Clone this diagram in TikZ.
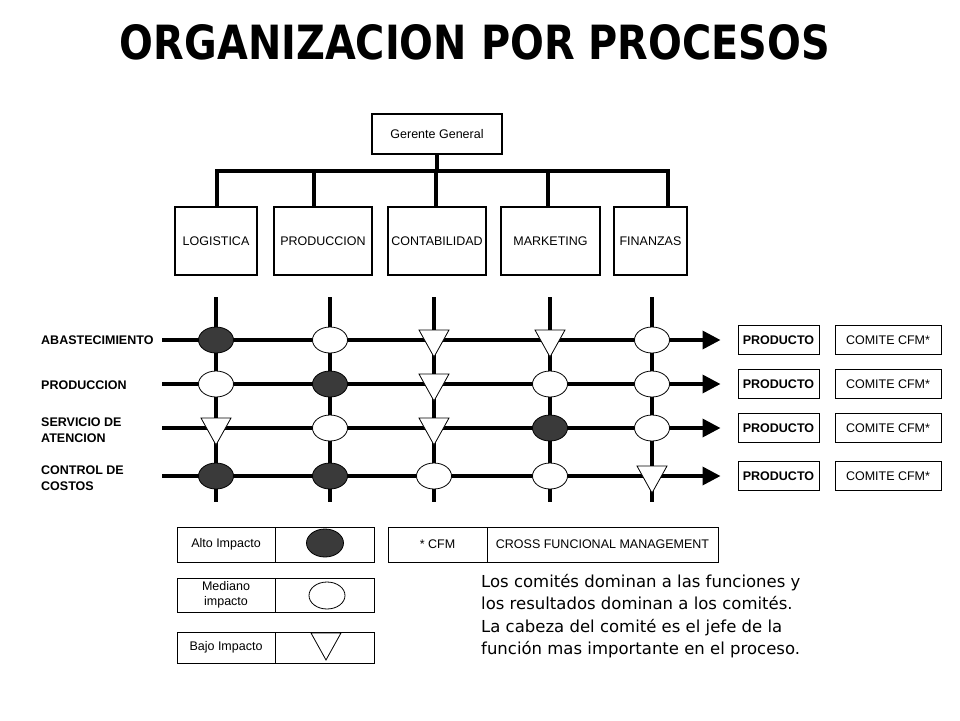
\documentclass[tikz,border=0pt]{standalone}
\usepackage{fontspec}
\setmainfont{Liberation Sans}
\newfontfamily\comicfont{DejaVu Sans}
\usetikzlibrary{shapes.geometric,arrows.meta}
\definecolor{darkfill}{RGB}{58,58,58}
\begin{document}
\begin{tikzpicture}[x=1pt,y=-1pt,
  orgbox/.style={draw, line width=1.8pt, inner sep=0pt, font=\fontsize{12.5}{14}\selectfont},
  thinbox/.style={draw, line width=1pt, inner sep=0pt, font=\fontsize{12.5}{14.5}\selectfont},
  boldbox/.style={thinbox, font=\bfseries\fontsize{12.5}{14}\selectfont},
  orgline/.style={line width=4pt},
  gridline/.style={line width=3.5pt},
  rowline/.style={gridline, -{Triangle[length=18pt,width=18pt]}, shorten >=17pt},
  hi/.style={ellipse, draw, line width=0.8pt, fill=darkfill, minimum width=35pt, minimum height=26pt, inner sep=0pt},
  med/.style={hi, fill=white},
  lowtri/.pic={\draw[line width=0.8pt, fill=white] (-15,-10) -- (15,-10) -- (0,17) -- cycle;},
  rowlabel/.style={anchor=west, align=left, inner sep=0pt, font=\bfseries\fontsize{12.5}{16}\selectfont}
]
\useasboundingbox[fill=white] (0,0) rectangle (960,720);

% title
\node[inner sep=0pt] (title) at (475,42.5) {\resizebox{710pt}{35pt}{\comicfont\bfseries ORGANIZACION POR PROCESOS}};

% org chart
\node[orgbox, minimum width=130pt, minimum height=40pt] (gg) at (437,134) {Gerente General};
\node[orgbox, minimum width=82pt, minimum height=68pt] (log) at (216,241) {LOGISTICA};
\node[orgbox, minimum width=98pt, minimum height=68pt] (pro) at (323,241) {PRODUCCION};
\node[orgbox, minimum width=98pt, minimum height=68pt] (con) at (437,241) {CONTABILIDAD};
\node[orgbox, minimum width=99pt, minimum height=68pt] (mar) at (550.5,241) {MARKETING};
\node[orgbox, minimum width=73pt, minimum height=68pt] (fin) at (650.5,241) {FINANZAS};
\coordinate (b1) at (217,171);
\coordinate (b2) at (314,171);
\coordinate (b3) at (436,171);
\coordinate (b4) at (548,171);
\coordinate (b5) at (668,171);
\draw[orgline] (gg.south) -- (gg.south |- b3);
\draw[orgline, line cap=rect] (b1) -- (b5);
\draw[orgline] (b1) -- (b1 |- log.north);
\draw[orgline] (b2) -- (b2 |- pro.north);
\draw[orgline] (b3) -- (b3 |- con.north);
\draw[orgline] (b4) -- (b4 |- mar.north);
\draw[orgline] (b5) -- (b5 |- fin.north);

% right boxes
\foreach \j/\y in {1/340,2/384,3/428,4/476}{
  \node[boldbox, minimum width=81pt, minimum height=29pt] (p\j) at (778.5,\y) {PRODUCTO};
  \node[thinbox, minimum width=106pt, minimum height=29pt] (c\j) at (888,\y) {COMITE CFM*};
  \coordinate (rs\j) at (162,\y);
  \draw[rowline] (rs\j) -- (p\j.west);
}
% vertical lines
\foreach \i/\x in {1/216,2/330,3/434,4/550,5/652}{
  \coordinate (vt\i) at (\x,297);
  \coordinate (vb\i) at (\x,502);
  \draw[gridline] (vt\i) -- (vb\i);
}

% row labels
\node[rowlabel] (l1) at (41,340) {ABASTECIMIENTO};
\node[rowlabel] (l2) at (41,385) {PRODUCCION};
\node[rowlabel] (l3) at (41,430) {SERVICIO DE\\ATENCION};
\node[rowlabel] (l4) at (41,478) {CONTROL DE\\COSTOS};

% matrix markers
% row 1
\node[hi] (m11) at (216,340) {};
\node[med] (m12) at (330,340) {};
\pic at (434,340) {lowtri};
\pic at (550,340) {lowtri};
\node[med] (m15) at (652,340) {};
% row 2
\node[med] (m21) at (216,384) {};
\node[hi] (m22) at (330,384) {};
\pic at (434,384) {lowtri};
\node[med] (m24) at (550,384) {};
\node[med] (m25) at (652,384) {};
% row 3
\pic at (216,428) {lowtri};
\node[med] (m32) at (330,428) {};
\pic at (434,428) {lowtri};
\node[hi] (m34) at (550,428) {};
\node[med] (m35) at (652,428) {};
% row 4
\node[hi] (m41) at (216,476) {};
\node[hi] (m42) at (330,476) {};
\node[med] (m43) at (434,476) {};
\node[med] (m44) at (550,476) {};
\pic at (652,476) {lowtri};

% legend
\node[thinbox, minimum width=98pt, minimum height=35pt] (la) at (226,544.5) {Alto Impacto};
\node[thinbox, minimum width=99pt, minimum height=35pt] (lb) at (324.5,544.5) {};
\node[hi, minimum width=37pt, minimum height=28pt] (lbh) at (325,543) {};
\node[thinbox, minimum width=98pt, minimum height=34pt, align=center] (ma) at (226,595) {Mediano\\impacto};
\node[thinbox, minimum width=99pt, minimum height=34pt] (mb) at (324.5,595) {};
\node[med, minimum width=36pt, minimum height=27pt] (mbm) at (327,595.5) {};
\node[thinbox, minimum width=98pt, minimum height=31pt] (ba) at (226,647.5) {Bajo Impacto};
\node[thinbox, minimum width=99pt, minimum height=31pt] (bb) at (324.5,647.5) {};
\pic at (326,643) {lowtri};

\node[thinbox, minimum width=99pt, minimum height=35pt] (ca) at (437.5,544.5) {* CFM};
\node[thinbox, minimum width=231pt, minimum height=35pt] (cb) at (602.5,544.5) {CROSS FUNCIONAL MANAGEMENT};

% description
\node[anchor=north west, align=left, inner sep=0pt, font=\comicfont\fontsize{16.5}{22.3}\selectfont] (desc) at (481,574)
 {Los comités dominan a las funciones y\\los resultados dominan a los comités.\\La cabeza del comité es el jefe de la\\función mas importante en el proceso.};
\end{tikzpicture}
\end{document}
